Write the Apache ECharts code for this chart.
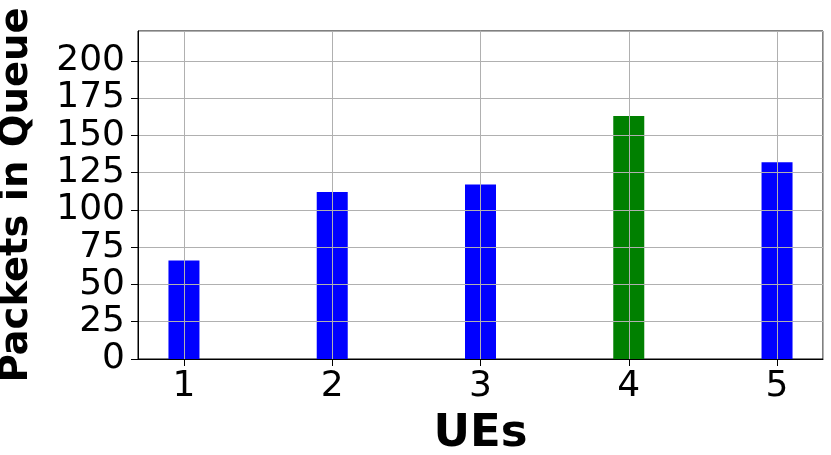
<!DOCTYPE html>
<html>
<head>
<meta charset="utf-8">
<script src="https://cdn.jsdelivr.net/npm/echarts@6/dist/echarts.min.js"></script>
<style>
	html, body { margin: 0; padding: 0; background: #fff; }
	#chart { width: 831px; height: 455px; }
</style>
</head>
<body>
<div id="chart"></div>
<script>
// UE ids and queue lengths
const ues = [1, 2, 3, 4, 5];
const packets = [66, 112, 117, 163, 132];
const colors = ["#0000ff", "#0000ff", "#0000ff", "#008000", "#0000ff"];

const font = "DejaVu Sans";

const option = {
	animation: false,
	grid: {
		left: 138,
		right: 8,
		top: 31,
		bottom: 96,
		outerBoundsMode: "none",
		containLabel: false,
		show: true,
		borderColor: "#000",
		borderWidth: 1,
	},
	xAxis: {
		type: "value",
		min: 0.69,
		max: 5.31,
		splitNumber: 5,
		z: 3,
		name: "UEs",
		nameLocation: "middle",
		nameGap: 53,
		nameTextStyle: { fontFamily: font, fontSize: 45, fontWeight: "bold", color: "#000" },
		axisLine: { lineStyle: { color: "#000", width: 1 } },
		axisTick: { length: 7, lineStyle: { color: "#000" } },
		axisLabel: {
			fontFamily: font,
			fontSize: 36,
			color: "#000",
			margin: 10,
			showMinLabel: false,
			showMaxLabel: false,
			hideOverlap: false,
			formatter: v => (Number.isInteger(v) ? String(v) : ""),
		},
		splitLine: { show: true, lineStyle: { color: "#b0b0b0", width: 1 } },
	},
	yAxis: {
		type: "value",
		min: 0,
		max: 220,
		interval: 25,
		z: 3,
		name: "Packets in Queue",
		nameLocation: "middle",
		nameGap: 102,
		nameTextStyle: { fontFamily: font, fontSize: 38.5, fontWeight: "bold", color: "#000" },
		axisLine: { show: true, lineStyle: { color: "#000", width: 1 } },
		axisTick: { show: true, length: 7, lineStyle: { color: "#000" } },
		axisLabel: {
			fontFamily: font,
			fontSize: 36,
			color: "#000",
			margin: 13,
			showMinLabel: true,
			showMaxLabel: false,
			hideOverlap: false,
		},
		splitLine: { show: true, lineStyle: { color: "#b0b0b0", width: 1 } },
	},
	series: [
		{
			type: "bar",
			barWidth: 31,
			data: ues.map((u, i) => ({
				value: [u, packets[i]],
				itemStyle: { color: colors[i] },
			})),
		},
	],
};

const myEcharts = echarts.init(document.getElementById("chart"), null, { renderer: "canvas" });
myEcharts.setOption(option);
</script>
</body>
</html>
